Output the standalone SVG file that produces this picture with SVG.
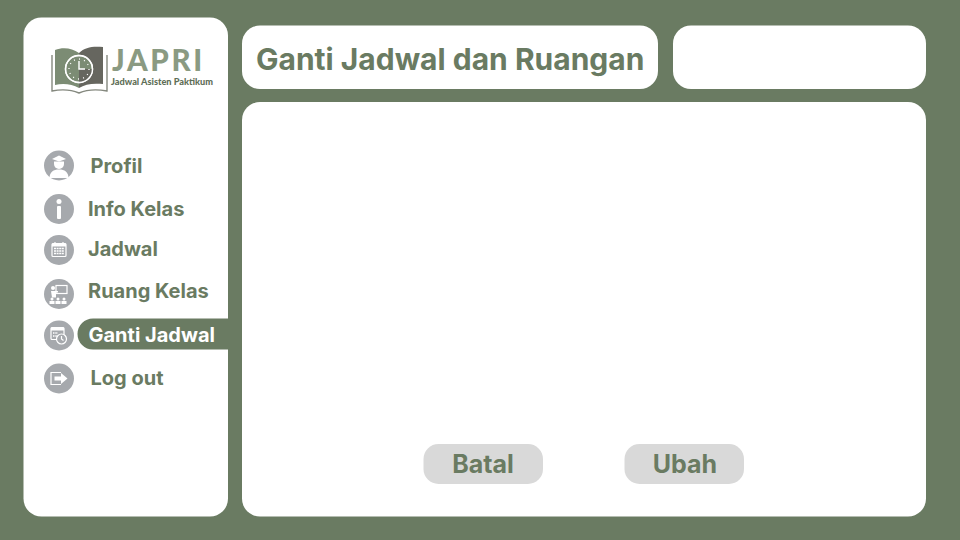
<svg xmlns="http://www.w3.org/2000/svg" width="960" height="540" viewBox="0 0 960 540">
<style>
.p{fill:#fff}
.t{font-family:Inter,"Liberation Sans",sans-serif;font-weight:700;fill:#6a7b62}
.m{font-size:20px}
.b{font-size:25px}
.c{fill:#a6a9ad}
.w{fill:none;stroke:#fff;stroke-width:1.2}
.f{fill:#fff}
.btn{fill:#d9d9d9}
</style>
<rect width="960" height="540" fill="#6a7b62"/>
<g id="sidebar"><rect class="p" x="23.500" y="17.500" width="204.500" height="499" rx="18"/></g>
<g id="title"><rect class="p" x="242" y="25.500" width="416" height="63.500" rx="18"/>
<text class="t" x="256" y="70" font-size="30">Ganti Jadwal dan Ruangan</text></g>
<g id="topright"><rect class="p" x="673" y="25.500" width="253" height="63.500" rx="18"/></g>
<g id="content"><rect class="p" x="242" y="102" width="684" height="414.500" rx="18"/></g>
<g id="logo">
<path d="M55 50c8-3 17-2 24 3v35c-7-4-16-5-24-3z" fill="#7c8c74"/>
<path d="M79 53c6-6 14-7 24-6v37c-10-1-18 0-24 4z" fill="#66665f"/>
<path d="M52 55v36c10-2 20-1 27 2 7-3 17-4 28-2v-36" fill="none" stroke="#85897f" stroke-width="1.400"/>
<circle cx="79" cy="69" r="13.500" fill="#7c8c74" stroke="#fff" stroke-width="1.400"/>
<path d="M79 69h13.500a13.500 13.500 0 0 1-13.500 13.500z" fill="#66665f"/>
<circle cx="79" cy="69" r="13.500" fill="none" stroke="#fff" stroke-width="1.400"/>
<circle cx="79" cy="69" r="10" fill="none" stroke="#fff" stroke-width="1.300" stroke-dasharray="1 4.200"/>
<path d="M79 61v8h6" fill="none" stroke="#fff" stroke-width="1.400"/>
<text x="112" y="71" font-family="Lato,'Liberation Sans',sans-serif" font-weight="900" font-size="29.500" letter-spacing="2.600" fill="#8a9a82">JAPRI</text>
<text x="111" y="84.500" font-family="Lato,'Liberation Sans',sans-serif" font-weight="900" font-size="9.200" fill="#5f6f58">Jadwal Asisten Paktikum</text>
</g>
<g id="menu-profil"><circle class="c" cx="59" cy="165.500" r="15"/>
<path class="f" d="M52 159l7-3.500 7 3.500-7 2.500z"/><path class="f" d="M54 161.500h10v2.500a5 5 0 0 1-10 0z"/><path class="f" d="M49.500 178c0-6 4-8.500 9.500-8.500s9.500 2.500 9.500 8.500z"/>
<text class="t m" x="90.500" y="172.500">Profil</text></g>
<g id="menu-info"><circle class="c" cx="59" cy="209" r="15"/>
<circle class="f" cx="59" cy="201.500" r="2.500"/><rect class="f" x="57" y="206" width="4" height="13" rx="1"/>
<text class="t m" x="88" y="216">Info Kelas</text></g>
<g id="menu-jadwal"><circle class="c" cx="59" cy="250" r="15"/>
<rect class="w" x="52" y="243.500" width="14" height="13" rx="1"/><rect class="f" x="52" y="243.500" width="14" height="3"/><path d="M54 248.500h10M54 251h10M54 253.500h10" stroke="#fff" stroke-width="1.500" stroke-dasharray="2 .6" fill="none"/><path class="w" d="M55 242v3M63 242v3"/>
<text class="t m" x="88" y="256">Jadwal</text></g>
<g id="menu-ruang"><circle class="c" cx="59" cy="294" r="15"/>
<rect class="w" x="56" y="285.500" width="11" height="8"/><circle class="f" cx="53" cy="288" r="2"/><path class="f" d="M51 291h4l3 0v1.500h-2v5h-4z"/>
<g class="f"><circle cx="52" cy="299" r="1.500"/><circle cx="58" cy="299" r="1.500"/><circle cx="64" cy="299" r="1.500"/><rect x="49.500" y="301" width="5" height="3"/><rect x="55.500" y="301" width="5" height="3"/><rect x="61.500" y="301" width="5" height="3"/></g>
<text class="t m" x="88" y="298">Ruang Kelas</text></g>
<g id="menu-ganti"><circle class="c" cx="59" cy="335.500" r="15"/>
<rect class="w" x="51" y="327.500" width="13" height="12" rx="1"/><rect class="f" x="51" y="327.500" width="13" height="3"/><path d="M53 333h5M53 336h4" stroke="#fff" stroke-width="1.500" stroke-dasharray="1.500 .8"/><circle cx="61.500" cy="339" r="5" fill="#a6a9ad" stroke="#fff" stroke-width="1.200"/><path class="w" d="M61.500 336v3l2 1.500"/>
<path d="M228 318.500H93a15.500 15.500 0 0 0 0 31H228z" fill="#6a7b62"/>
<text class="t m" x="88.500" y="341.500" style="fill:#fff">Ganti Jadwal</text></g>
<g id="menu-logout"><circle class="c" cx="59" cy="378.500" r="15"/>
<path class="w" d="M61 372.500h-10v12h10" stroke-width="1.800"/><path class="f" d="M54.500 376.500h6.500v-3.500l6.500 5.500-6.500 5.500v-3.500h-6.500z"/>
<text class="t m" x="90.500" y="385">Log out</text></g>
<g id="btn-batal"><rect class="btn" x="423.500" y="444" width="119.500" height="40" rx="15"/>
<text class="t b" x="483" y="472.500" text-anchor="middle">Batal</text></g>
<g id="btn-ubah"><rect class="btn" x="624.500" y="444" width="119.500" height="40" rx="15"/>
<text class="t b" x="685" y="472.500" text-anchor="middle">Ubah</text></g>
<g id="connectors"></g>
</svg>
